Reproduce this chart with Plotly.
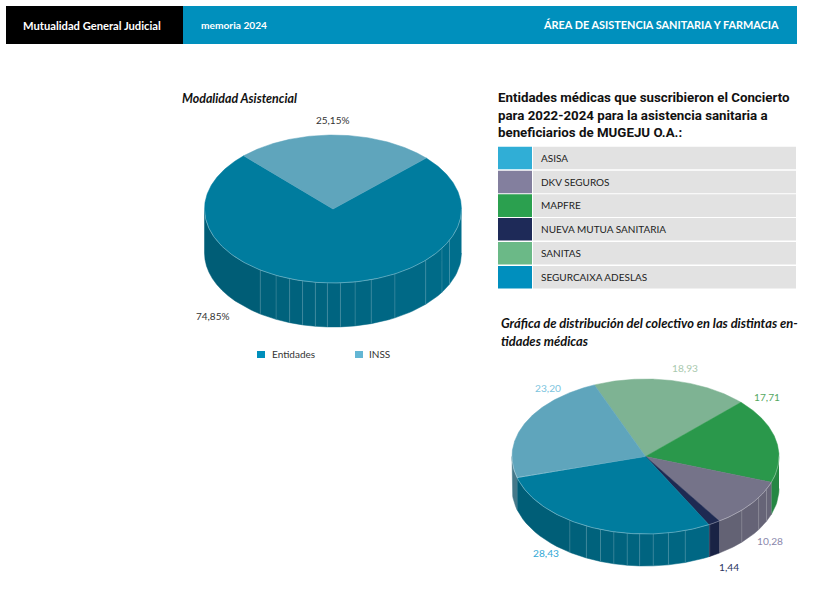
import numpy as np
import plotly.graph_objects as go

# ---------- data ----------
modality_names = ["Entidades", "INSS"]
modality_values = [74.85, 25.15]
modality_text = ["74,85%", "25,15%"]
modality_colors = ["#007c9e", "#5fa5bc"]
modality_legend_colors = ["#008fbb", "#63b6d4"]

entity_names = ["ASISA", "DKV SEGUROS", "MAPFRE", "NUEVA MUTUA SANITARIA", "SANITAS", "SEGURCAIXA ADESLAS"]
entity_swatches = ["#30aed6", "#837f9e", "#2ba04f", "#1e2a58", "#6bb987", "#008fbe"]

# slices clockwise as drawn, starting at the SANITAS slice
share_names = ["SANITAS", "MAPFRE", "DKV SEGUROS", "NUEVA MUTUA SANITARIA", "SEGURCAIXA ADESLAS", "ASISA"]
share_values = [18.93, 17.71, 10.28, 1.44, 28.43, 23.20]
share_text = ["18,93", "17,71", "10,28", "1,44", "28,43", "23,20"]
share_colors = ["#7eb393", "#2a984b", "#757389", "#1e2a52", "#007c9e", "#5fa5bc"]
share_label_colors = ["#a9c9ae", "#55a85f", "#8a87ab", "#2a3560", "#33a9d6", "#7cc4de"]

# ---------- style ----------
FONT = "Lato"
BOLD = "Roboto"
SEAMS = [-34.5, -26.3, -19.7, -13.7, -7.9, -2.5, 3.3, 9.9, 17.3, 28.8, 46.2, 58, 65]

fig = go.Figure()


def rgb(h, f=1.0):
    h = h.lstrip("#")
    r, g, b = [int(h[i:i + 2], 16) * f for i in (0, 2, 4)]
    return f"rgb({r:.0f},{g:.0f},{b:.0f})"


def poly(xs, ys, color):
    fig.add_trace(go.Scatter(x=xs, y=ys, mode="lines", fill="toself", fillcolor=color,
                             line=dict(color=color, width=0.5), hoverinfo="skip", showlegend=False))


def pie3d(cx, cy, rx, ry, depth, values, colors, start):
    px = lambda t: cx + rx * np.sin(np.radians(t))
    py = lambda t: cy - ry * np.cos(np.radians(t))
    edges = start + np.concatenate([[0], np.cumsum(values)]) / sum(values) * 360
    seams = sorted(180 - s for s in SEAMS)
    # walls, visible on the front half only
    for a, b, c in zip(edges[:-1], edges[1:], colors):
        lo, hi = max(a, 90), min(b, 270)
        if lo >= hi:
            continue
        cuts = [lo] + [s for s in seams if lo < s < hi] + [hi]
        for u, v in zip(cuts[:-1], cuts[1:]):
            t = np.linspace(u, v, 12)
            f = 0.72 + 0.18 * (270 - (u + v) / 2) / 180
            poly(np.r_[px(t), px(t[::-1])], np.r_[py(t), py(t[::-1]) + depth], rgb(c, f))
        for s in cuts[1:-1]:
            fig.add_trace(go.Scatter(x=[px(s), px(s)], y=[py(s), py(s) + depth], mode="lines",
                                     line=dict(color="rgba(255,255,255,0.2)", width=0.7),
                                     hoverinfo="skip", showlegend=False))
    # top face
    for a, b, c in zip(edges[:-1], edges[1:], colors):
        t = np.linspace(a, b, max(int(b - a) * 2, 6))
        poly(np.r_[cx, px(t), cx], np.r_[cy, py(t), cy], rgb(c))
    t = np.linspace(90, 270, 200)
    fig.add_trace(go.Scatter(x=px(t), y=py(t), mode="lines",
                             line=dict(color="rgba(255,255,255,0.45)", width=0.7),
                             hoverinfo="skip", showlegend=False))


pie3d(333, 209, 128.5, 74, 44, modality_values, modality_colors, 46.5)
pie3d(645.5, 456.5, 133.5, 77.5, 32, share_values, share_colors, -22.5)

shapes = []
annotations = []


def rect(x0, y0, x1, y1, color):
    shapes.append(dict(type="rect", xref="x", yref="y", x0=x0, y0=y0, x1=x1, y1=y1,
                       fillcolor=color, line=dict(width=0), layer="below"))


def text(x, y, s, size, color, anchor="left", family=FONT, bold=False, italic=False):
    if bold:
        s = f"<b>{s}</b>"
    if italic:
        s = f"<i>{s}</i>"
    annotations.append(dict(xref="x", yref="y", x=x, y=y, text=s, showarrow=False, xanchor=anchor,
                            yanchor="middle", align=anchor, borderpad=0,
                            font=dict(family=family, size=size, color=color)))


# header band
rect(6, 6, 183, 44, "#000000")
rect(183, 6, 797, 44, "#0090bd")
text(21.5, 25, "Mutualidad General Judicial", 11.2, "#ffffff", bold=True)
text(199.5, 25, "memoria 2024", 10.2, "#ffffff", bold=True)
text(780, 24, "ÁREA DE ASISTENCIA SANITARIA Y FARMACIA", 10.9, "#ffffff", anchor="right", bold=True)

# headings
text(180.5, 98, "Modalidad Asistencial", 12.4, "#111111", bold=True, italic=True)
text(496.5, 97.5, "Entidades médicas que suscribieron el Concierto", 13.3, "#111111", family=BOLD, bold=True)
text(496.5, 115.5, "para 2022-2024 para la asistencia sanitaria a", 13.3, "#111111", family=BOLD, bold=True)
text(496.5, 132.5, "beneficiarios de MUGEJU O.A.:", 13.3, "#111111", family=BOLD, bold=True)
text(499.5, 323, "Gráfica de distribución del colectivo en las distintas en-", 12.9, "#111111", bold=True, italic=True)
text(499.5, 341, "tidades médicas", 12.9, "#111111", bold=True, italic=True)

# entity table
row_tops = [146.7, 170.7, 194.3, 218, 242, 266]
for top, name, sw in zip(row_tops, entity_names, entity_swatches):
    rect(498, top, 532, top + 22.6, sw)
    rect(533, top, 796, top + 22.6, "#e2e2e2")
    text(539.5, top + 11, name, 10, "#222222")

# first pie labels and legend
text(333, 119.5, modality_text[1], 10, "#333333", anchor="center")
text(213, 315.5, modality_text[0], 10, "#333333", anchor="center")
rect(257, 351, 265, 358, modality_legend_colors[0])
rect(355, 351, 363, 358, modality_legend_colors[1])
text(271, 354, modality_names[0], 10, "#333333")
text(368, 354, modality_names[1], 10, "#333333")

# second pie labels
label_xy = [(685, 368), (767, 397), (770, 541), (729, 567), (546, 553), (548, 388)]
for (x, y), s, c in zip(label_xy, share_text, share_label_colors):
    text(x, y, s, 10.2, c, anchor="center")

fig.update_layout(width=827, height=594, margin=dict(l=0, r=0, t=0, b=0),
                  paper_bgcolor="#ffffff", plot_bgcolor="#ffffff",
                  xaxis=dict(range=[0, 827], visible=False, fixedrange=True),
                  yaxis=dict(range=[594, 0], visible=False, fixedrange=True),
                  shapes=shapes, annotations=annotations, showlegend=False)

fig.write_html("out.html", config=dict(displayModeBar=False),
               post_script="document.body.style.margin='0';document.body.style.overflow='hidden';")
